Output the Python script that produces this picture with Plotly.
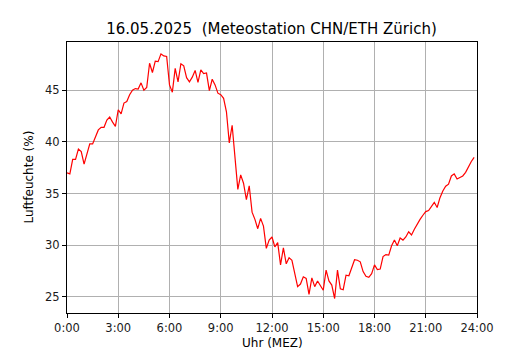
import numpy as np
import plotly.graph_objects as go

# 10-minute samples, 0:00 .. 23:50
humidity = [
    37.0, 36.9, 38.3, 38.3, 39.3, 39.05, 37.85, 38.9, 39.8, 39.8,
    40.5, 41.15, 41.4, 41.4, 42.1, 42.4, 41.9, 41.5, 43.1, 42.7,
    43.75, 43.9, 44.55, 45.0, 45.15, 45.1, 45.7, 45.0, 45.25, 47.6,
    46.7, 47.8, 47.75, 48.5, 48.3, 48.25, 45.5, 44.8, 47.1, 45.8,
    47.55, 47.35, 46.2, 45.8, 46.25, 46.9, 45.75, 46.95, 46.6, 46.65,
    44.95, 46.05, 45.5, 44.7, 44.55, 44.2, 42.9, 39.9, 41.6, 38.5,
    35.4, 36.8, 36.0, 34.4, 35.75, 33.2, 32.5, 31.6, 32.6, 31.85,
    29.7, 30.5, 30.8, 29.85, 30.25, 28.1, 29.75, 28.2, 28.8, 28.55,
    27.1, 26.0, 26.25, 26.95, 26.8, 25.25, 26.85, 26.0, 26.55, 26.05,
    25.65, 27.6, 26.55, 26.15, 24.85, 27.6, 25.8, 25.7, 27.1, 27.05,
    27.85, 28.6, 28.55, 28.4, 27.45, 27.0, 26.9, 27.25, 28.1, 27.65,
    27.7, 28.9, 29.1, 29.05, 29.95, 30.5, 29.95, 30.7, 30.5, 30.8,
    31.3, 31.0, 31.55, 32.1, 32.5, 32.9, 33.25, 33.35, 33.8, 34.15,
    33.65, 34.6, 35.25, 35.7, 35.9, 36.7, 36.9, 36.4, 36.55, 36.7,
    37.05, 37.6, 38.1, 38.5,
]
hours = np.arange(len(humidity)) * 10 / 60.0

x_tickvals = [0, 3, 6, 9, 12, 15, 18, 21, 24]
x_ticktext = ["0:00", "3:00", "6:00", "9:00", "12:00", "15:00", "18:00", "21:00", "24:00"]
y_tickvals = [25, 30, 35, 40, 45]

title_text = "16.05.2025  (Meteostation CHN/ETH Zürich)"
x_label = "Uhr (MEZ)"
y_label = "Luftfeuchte (%)"

FONT = "DejaVu Sans, sans-serif"

# page body has an 8px default margin; size the figure so it fits the 530x350 window
W, H = 522, 342

fig = go.Figure()
fig.add_trace(go.Scatter(
    x=hours, y=humidity, mode="lines",
    line=dict(color="#ff0000", width=1.2),
    showlegend=False, hoverinfo="skip",
))

axis_common = dict(
    showline=True, linecolor="black", linewidth=1.2, mirror=True,
    ticks="outside", ticklen=4, tickwidth=1, tickcolor="black",
    showgrid=True, gridcolor="#b0b0b0", gridwidth=1,
    zeroline=False,
    tickfont=dict(family=FONT, size=11.5, color="#1a1a1a"),
)

fig.update_xaxes(range=[0, 24], tickvals=x_tickvals, ticktext=x_ticktext, **axis_common)
fig.update_yaxes(range=[23.45, 49.65], tickvals=y_tickvals, **axis_common)

fig.update_layout(
    width=W, height=H,
    margin=dict(l=59, r=53, t=34, b=37, pad=0),
    paper_bgcolor="white", plot_bgcolor="white",
    title=dict(text=title_text, x=263.5 / W, xanchor="center",
               yref="container", y=1 - 20.5 / H, yanchor="middle",
               font=dict(family=FONT, size=15, color="black")),
    annotations=[
        dict(text=x_label, xref="paper", yref="paper", x=0.5, y=0.0,
             yshift=-21, xanchor="center", yanchor="top", showarrow=False,
             font=dict(family=FONT, size=12, color="black")),
        dict(text=y_label, xref="paper", yref="paper", x=0, y=0.5,
             xshift=-39, xanchor="center", yanchor="middle", textangle=-90,
             showarrow=False,
             font=dict(family=FONT, size=12, color="black")),
    ],
)

fig.write_html("out.html")
